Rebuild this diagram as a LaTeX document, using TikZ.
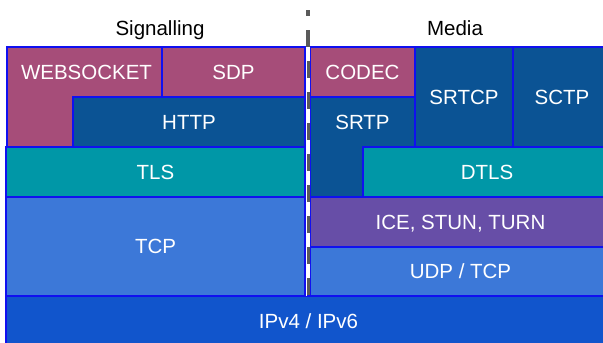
\documentclass[tikz,border=0pt]{standalone}
\usepackage{fontspec}
\setmainfont{Liberation Sans}
\usepackage{xcolor}
\usepackage{tikz}
\usetikzlibrary{calc}
\definecolor{pinkL}{HTML}{A64D79}
\definecolor{navyL}{HTML}{0B5394}
\definecolor{tealL}{HTML}{0097A7}
\definecolor{skyL}{HTML}{3C78D8}
\definecolor{purpleL}{HTML}{674EA7}
\definecolor{ipL}{HTML}{1155CC}
\definecolor{edgeblue}{HTML}{1010F0}
\definecolor{splitgrey}{HTML}{5A5A5A}

\begin{document}
\begin{tikzpicture}[
    x=1pt, y=-1pt,
    layer/.style={draw=edgeblue, line width=1.2pt, fill=#1},
    lbl/.style={text=white, font=\fontsize{20.5}{24}\selectfont, text height=14.7pt, text depth=0pt, inner sep=0pt},
    head/.style={lbl, text=black}
]
\useasboundingbox (0,0) rectangle (603,343);
\clip (0,0) rectangle (603,343);

% Split line
\draw[splitgrey, line width=4pt, dash pattern=on 17pt off 14pt, dash phase=11pt] (308,10) -- (308,297);

% Signalling
\node[head] (sig) at (160,28) {Signalling};
\draw[layer=pinkL] (7,47) -- (162,47) -- (162,97) -- (73,97) -- (73,147) -- (7,147) -- cycle;
\node[lbl] (websocket) at (86.5,72) {WEBSOCKET};
\draw[layer=pinkL] (162,47) rectangle (305,97);
\node[lbl] (sdp) at (233.5,72) {SDP};
\draw[layer=navyL] (73,97) rectangle (305,147);
\node[lbl] (http) at (189,122) {HTTP};
\draw[layer=tealL] (6,147) rectangle (305,197);
\node[lbl] (tls) at (155.5,172) {TLS};
\draw[layer=skyL] (6,197) rectangle (305,296);
\node[lbl] (tcp) at (155.5,246.5) {TCP};

% Media
\node[head] (media) at (455,28) {Media};
\draw[layer=pinkL] (310.5,47) rectangle (415,97);
\node[lbl] (codec) at (362.5,72) {CODEC};
\draw[layer=navyL] (310.5,97) -- (415,97) -- (415,147) -- (363,147) -- (363,197) -- (310.5,197) -- cycle;
\node[lbl] (srtp) at (362.5,122) {SRTP};
\draw[layer=navyL] (415,47) rectangle (513,147);
\node[lbl] (srtcp) at (464,97) {SRTCP};
\draw[layer=navyL] (513,47) rectangle (612,147);
\node[lbl] (sctp) at (562,97) {SCTP};
\draw[layer=tealL] (363,147) rectangle (612,197);
\node[lbl] (dtls) at (487,172) {DTLS};
\draw[layer=purpleL] (310.5,197) rectangle (612,247);
\node[lbl] (ice) at (460.5,222) {ICE, STUN, TURN};
\draw[layer=skyL] (310.5,247) rectangle (612,296);
\node[lbl] (udp) at (460.5,271.5) {UDP / TCP};

% Network
\draw[layer=ipL] (6,296) rectangle (612,347);
\node[lbl] (ip) at (308.5,321) {IPv4 / IPv6};

\draw[white, line width=1.4pt] (306.7,47) -- (306.7,296);
\end{tikzpicture}
\end{document}
